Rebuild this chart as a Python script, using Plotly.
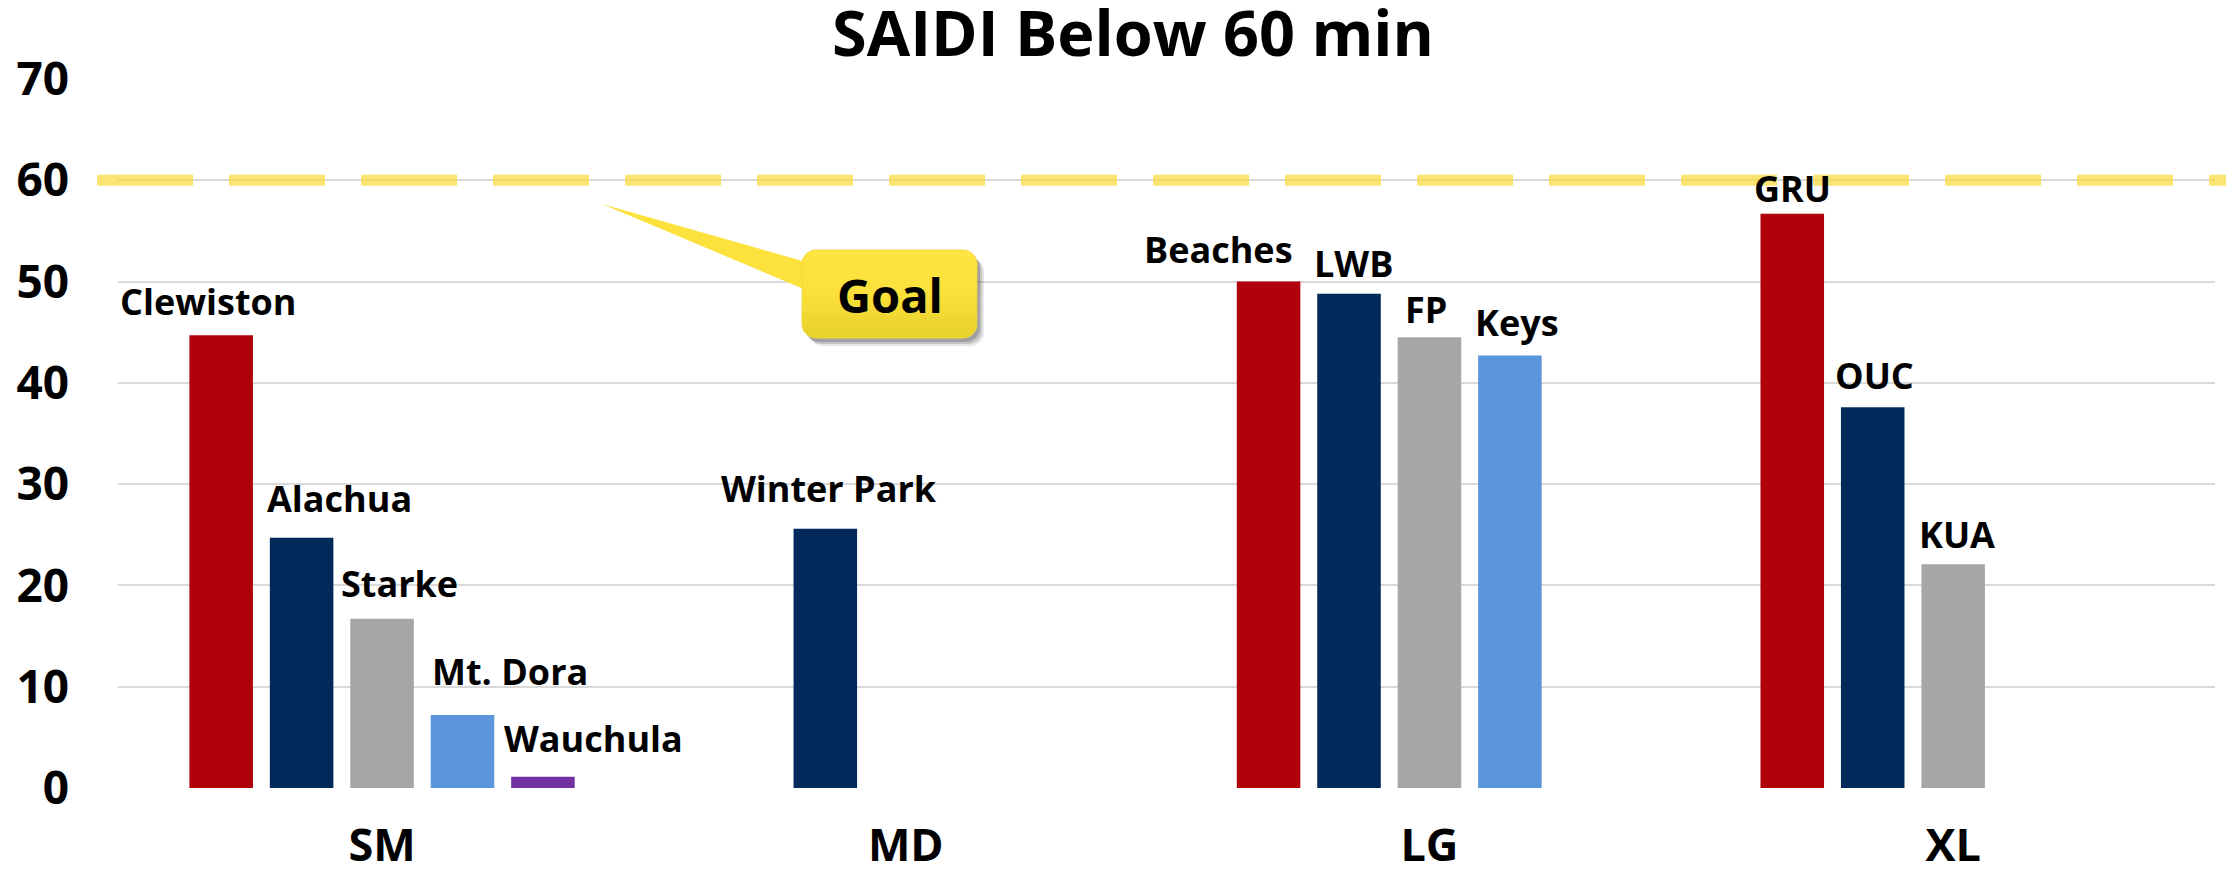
import numpy as np
import plotly.graph_objects as go

# ---------------- data ----------------
categories = ["SM", "MD", "LG", "XL"]

s1_values = [44.7, None, 50.0, 56.7]
s1_names = ["Clewiston", None, "Beaches", "GRU"]
s2_values = [24.7, 25.6, 48.8, 37.6]
s2_names = ["Alachua", "Winter Park", "LWB", "OUC"]
s3_values = [16.7, None, 44.5, 22.1]
s3_names = ["Starke", None, "FP", "KUA"]
s4_values = [7.2, None, 42.7, None]
s4_names = ["Mt. Dora", None, "Keys", None]
s5_values = [1.1, None, None, None]
s5_names = ["Wauchula", None, None, None]

goal_value = 60
goal_label = "Goal"
title_text = "SAIDI Below 60 min"
y_ticks = [0, 10, 20, 30, 40, 50, 60, 70]

# ---------------- styles ----------------
series_colors = ["#B0000B", "#012A5B", "#A6A6A6", "#5B96DC", "#7030A0"]
FONT = "Open Sans"

# label placement tweaks (px) relative to bar centre / bar top
label_dx = [
    [-13, None, -50, 0],
    [38, 4, 5, 2],
    [17, None, -3, 4],
    [47, None, 7, None],
    [50, None, None, None],
]
label_dy = [
    [34, None, 32, 25],
    [39, 40, 30, 32],
    [35, None, 28, 30],
    [44, None, 33, None],
    [38, None, None, None],
]

W, H = 2226, 869
L, R, T, B = 118, 11, 79, 81
plot_w = W - L - R
BARGAP = 0.232
GROUPGAP = 0.21
n_series = 5
slot_px = plot_w / len(categories) * (1 - BARGAP) / n_series

all_values = [s1_values, s2_values, s3_values, s4_values, s5_values]
all_names = [s1_names, s2_names, s3_names, s4_names, s5_names]

fig = go.Figure()
for i, (vals, col) in enumerate(zip(all_values, series_colors)):
    fig.add_trace(go.Bar(
        x=categories, y=vals, marker=dict(color=col, line=dict(width=0)),
        showlegend=False, hoverinfo="skip",
    ))

annotations = []
for i, (vals, names) in enumerate(zip(all_values, all_names)):
    for j, (v, nm) in enumerate(zip(vals, names)):
        if v is None or nm is None:
            continue
        annotations.append(dict(
            x=categories[j], y=v, xref="x", yref="y", text=nm, showarrow=False,
            xanchor="center", yanchor="middle",
            xshift=(i - (n_series - 1) / 2) * slot_px + label_dx[i][j],
            yshift=label_dy[i][j],
            font=dict(family=FONT, size=36, color="black", weight="bold"),
        ))

# goal dashed line
fig.add_shape(type="line", xref="paper", yref="y",
              x0=(97 - L) / plot_w, x1=(W - L) / plot_w, y0=goal_value, y1=goal_value,
              line=dict(color="rgba(248,218,60,0.72)", width=11, dash="96px,36px"),
              layer="above")

# callout (pixel overlay axes)
def rounded_rect(x0, y0, x1, y1, r, n=10):
    pts = []
    corners = [(x1 - r, y0 + r, -90, 0), (x1 - r, y1 - r, 0, 90),
               (x0 + r, y1 - r, 90, 180), (x0 + r, y0 + r, 180, 270)]
    for cx, cy, a0, a1 in corners:
        for a in np.linspace(np.radians(a0), np.radians(a1), n):
            pts.append((cx + r * np.cos(a), cy + r * np.sin(a)))
    pts.append(pts[0])
    xs, ys = zip(*pts)
    return list(xs), list(ys)

bx0, by0, bx1, by1 = 802, 250, 977, 338
for k, (dx, dy, a) in enumerate([(7, 8, 0.10), (5, 6, 0.14), (3, 4, 0.18)]):
    sx, sy = rounded_rect(bx0 + dx, by0 + dy, bx1 + dx, by1 + dy, 14)
    fig.add_trace(go.Scatter(x=sx, y=sy, xaxis="x2", yaxis="y2", mode="lines",
                             fill="toself", fillcolor=f"rgba(0,0,0,{a})",
                             line=dict(width=0), showlegend=False, hoverinfo="skip"))
fig.add_trace(go.Scatter(x=[602, 806, 806, 602], y=[204, 262, 290, 204], xaxis="x2", yaxis="y2",
                         mode="lines", fill="toself", fillcolor="#FDE23E",
                         line=dict(width=0, color="#FDE23E"), showlegend=False, hoverinfo="skip"))
rx, ry = rounded_rect(bx0, by0, bx1, by1, 14)
fig.add_trace(go.Scatter(x=rx, y=ry, xaxis="x2", yaxis="y2", mode="lines", fill="toself",
                         fillgradient=dict(type="vertical", start=by0, stop=by1,
                                           colorscale=[[0, "#FFE443"], [0.5, "#FCE03A"], [1, "#E6D02A"]]),
                         line=dict(width=1, color="#F4D93A"), showlegend=False, hoverinfo="skip"))
annotations.append(dict(x=889.5, y=295, xref="x2", yref="y2", text=goal_label, showarrow=False,
                        xanchor="center", yanchor="middle",
                        font=dict(family=FONT, size=47, color="black", weight="bold")))

fig.update_layout(
    width=W, height=H,
    margin=dict(l=L, r=R, t=T, b=B, autoexpand=False),
    paper_bgcolor="white", plot_bgcolor="white",
    barmode="group", bargap=BARGAP, bargroupgap=GROUPGAP,
    title=dict(text=title_text, x=1133 / W, xanchor="center", xref="container",
               y=1 - 34 / H, yanchor="middle", yref="container", automargin=False,
               font=dict(family=FONT, size=63, color="black", weight="bold")),
    xaxis=dict(type="category", categoryorder="array", categoryarray=categories,
               showgrid=False, showline=False, zeroline=False, ticks="", automargin=False,
               tickfont=dict(family=FONT, size=45, color="black", weight="bold"),
               ticklabelstandoff=27),
    yaxis=dict(range=[0, 70], tickvals=y_ticks, showgrid=True, gridcolor="#D9D9D9", gridwidth=2,
               zeroline=False, showline=False, ticks="", automargin=False,
               tickfont=dict(family=FONT, size=46, color="black", weight="bold"),
               ticklabelstandoff=48),
    xaxis2=dict(overlaying="x", range=[L, W - R], visible=False),
    yaxis2=dict(overlaying="y", range=[H - B, T], visible=False),
    annotations=annotations,
)

fig.write_html("out.html", config={"displayModeBar": False},
               post_script="document.body.style.margin='0';document.body.style.overflow='hidden';")
